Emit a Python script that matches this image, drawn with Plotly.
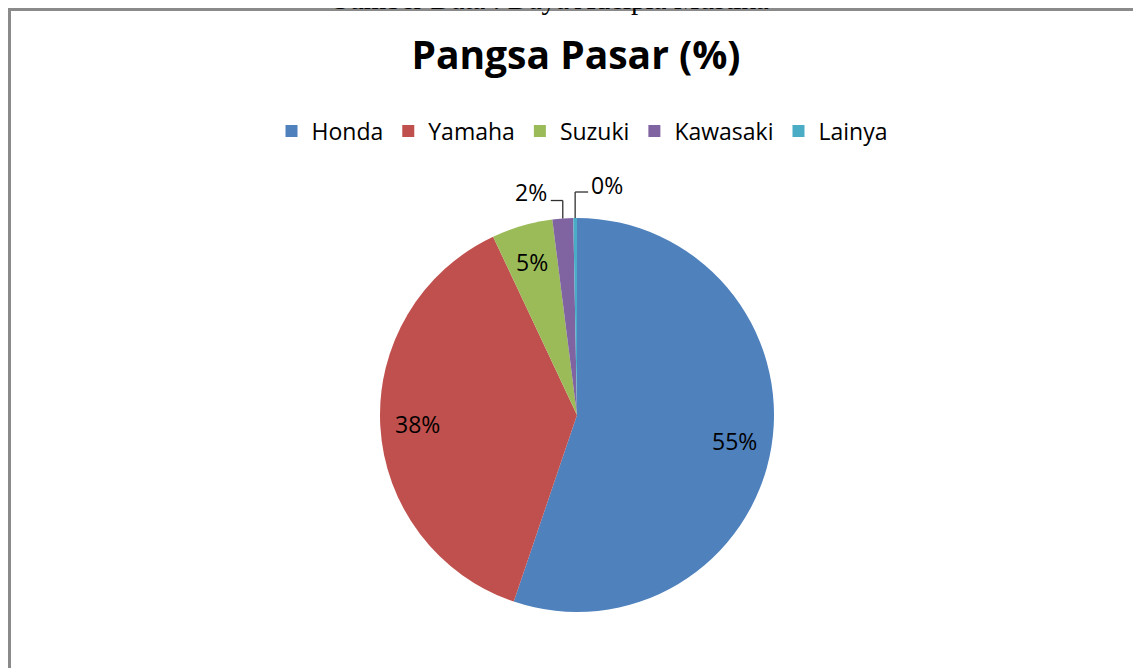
import math
import plotly.graph_objects as go

# ---- data ----
chart_title = "Pangsa Pasar (%)"
source_note = "Sumber Data : Daya Adelpia Mustika"
brands = ["Honda", "Yamaha", "Suzuki", "Kawasaki", "Lainya"]
shares = [55.2, 37.8, 5.0, 1.7, 0.3]
colors = ["#4F81BD", "#C0504D", "#9BBB59", "#8064A2", "#4BACC6"]
label_inside = [True, True, True, False, False]

# ---- layout geometry (screen pixels; the page body adds an 8px offset) ----
OFF = 8
WIN_W, WIN_H = 1141, 668
W, H = WIN_W - OFF, WIN_H - OFF
cx, cy, R = 577, 415, 197

FONT = "Open Sans"


def px(x):
    return (x - OFF) / W


def py(y):
    return 1 - (y - OFF) / H


fig = go.Figure()
fig.add_trace(go.Pie(
    labels=brands,
    values=shares,
    sort=False,
    direction="clockwise",
    rotation=0,
    marker=dict(colors=colors, line=dict(width=0)),
    textinfo="none",
    domain=dict(x=[px(cx - R), px(cx + R)], y=[py(cy + R), py(cy - R)]),
    hoverinfo="label+percent",
))

# data labels positioned from the slice angles
total = sum(shares)
cum = 0.0
shapes = []
annotations = []
lab_font = dict(family=FONT, size=23, color="#000000")
for i, v in enumerate(shares):
    mid = (cum + v / 2) / total
    cum += v
    ang = 2 * math.pi * mid
    pct = f"{round(100 * v / total)}%"
    if label_inside[i]:
        r = 0.81 * R
        lx = cx + r * math.sin(ang)
        ly = cy - r * math.cos(ang)
        annotations.append(dict(x=px(lx), y=py(ly), xref="paper", yref="paper", text=pct,
                                showarrow=False, xanchor="center", yanchor="middle", font=lab_font))
        continue
    ex = cx + R * math.sin(ang)
    ey = cy - R * math.cos(ang)
    if ex < cx - 5:  # label to the left
        up, side = 18, -12
        annotations.append(dict(x=px(ex + side - 2), y=py(ey - up - 9), xref="paper", yref="paper",
                                text=pct, showarrow=False, xanchor="right", yanchor="middle", font=lab_font))
    else:  # label to the right
        up, side = 26, 13
        annotations.append(dict(x=px(ex + side + 1), y=py(ey - up - 7), xref="paper", yref="paper",
                                text=pct, showarrow=False, xanchor="left", yanchor="middle", font=lab_font))
    pts = [(ex, ey), (ex, ey - up), (ex + side, ey - up)]
    for (x0, y0), (x1, y1) in zip(pts[:-1], pts[1:]):
        shapes.append(dict(type="line", xref="paper", yref="paper",
                           x0=px(x0), y0=py(y0), x1=px(x1), y1=py(y1),
                           line=dict(color="#303030", width=1.3)))

# chart border
shapes.append(dict(type="rect", xref="paper", yref="paper",
                   x0=px(9.5), x1=1.02, y0=-0.02, y1=py(9.5),
                   line=dict(color="#8a8a8a", width=3), layer="above"))

# clipped source note at the very top of the page
annotations.append(dict(x=px(551), y=1, xref="paper", yref="paper", text=source_note,
                        showarrow=False, xanchor="center", yanchor="bottom", yshift=-9,
                        font=dict(family="Liberation Serif", size=29, color="#000000")))

fig.update_layout(
    width=W, height=H,
    margin=dict(l=0, r=0, t=0, b=0),
    paper_bgcolor="white",
    plot_bgcolor="white",
    title=dict(text=f"<b>{chart_title}</b>", x=px(576), xanchor="center",
               y=py(55), yanchor="middle", yref="container",
               font=dict(family=FONT, size=39, color="#000000")),
    legend=dict(orientation="h", x=px(582), xanchor="center", y=py(131), yanchor="middle",
                font=dict(family=FONT, size=23, color="#000000"), traceorder="normal"),
    shapes=shapes,
    annotations=annotations,
)

fig.write_html("out.html")
